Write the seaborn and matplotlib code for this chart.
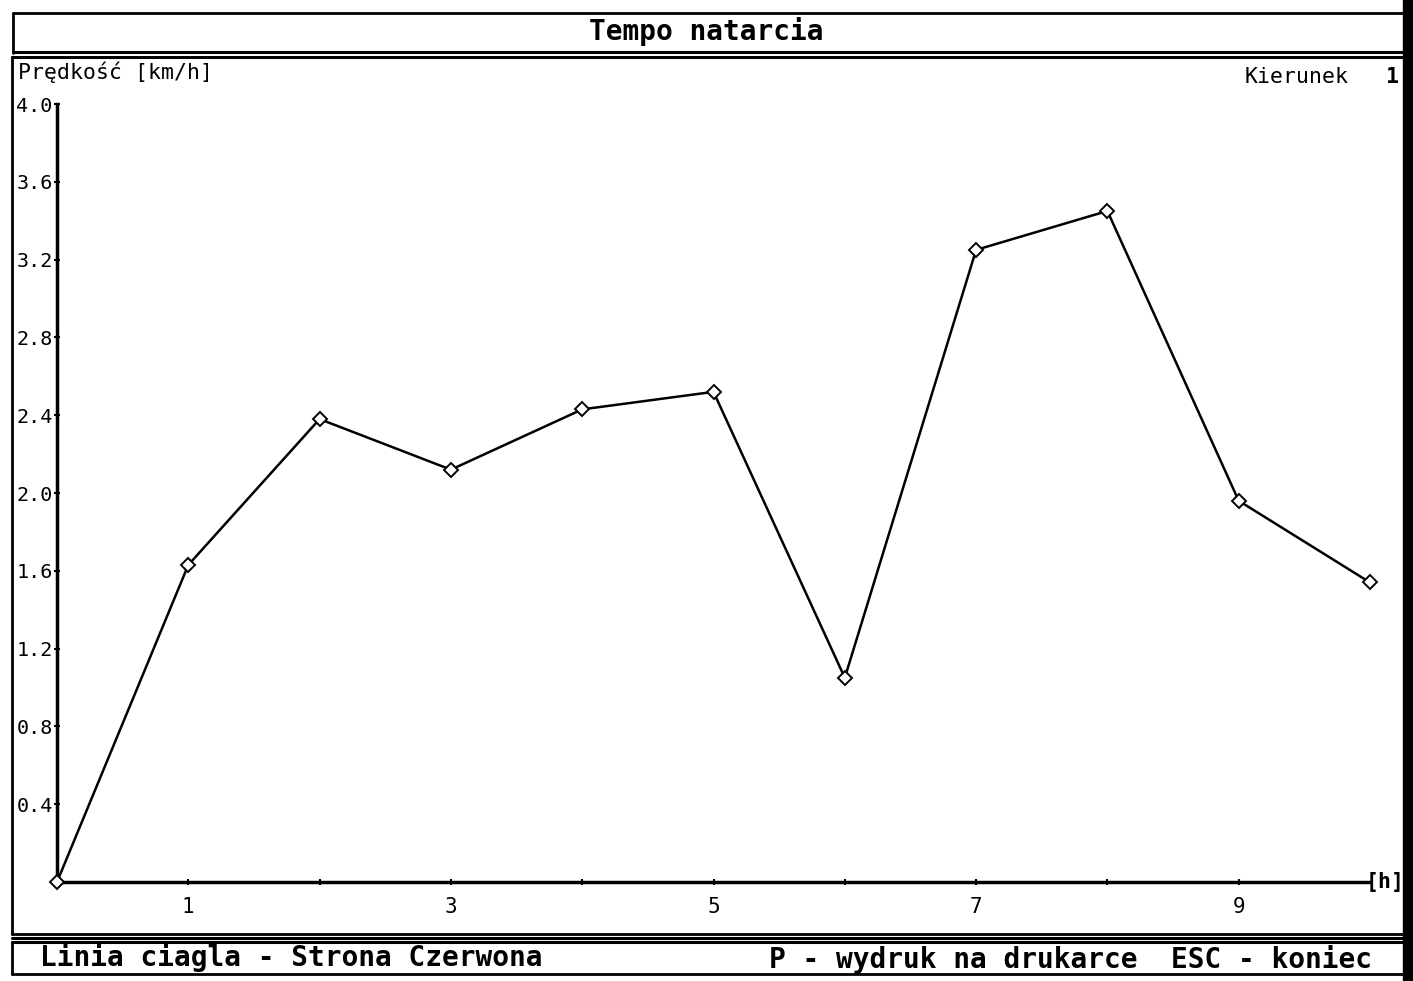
import matplotlib
matplotlib.use("Agg")
import matplotlib.pyplot as plt
import seaborn as sns
from matplotlib.lines import Line2D
from matplotlib.patches import Rectangle

sns.set_style("white")
plt.rcParams["font.family"] = ["DejaVu Sans Mono", "DejaVu Sans"]
plt.rcParams["text.color"] = "black"
plt.rcParams["xtick.color"] = "black"
plt.rcParams["ytick.color"] = "black"

hours = [0, 1, 2, 3, 4, 5, 6, 7, 8, 9, 10]
speed = [0.0, 1.63, 2.38, 2.12, 2.43, 2.52, 1.05, 3.25, 3.45, 1.96, 1.54]
y_ticks = [0.4, 0.8, 1.2, 1.6, 2.0, 2.4, 2.8, 3.2, 3.6, 4.0]
x_ticks = [1, 2, 3, 4, 5, 6, 7, 8, 9]
x_labels = ["1", "", "3", "", "5", "", "7", "", "9"]

W, H = 1413, 981
fig = plt.figure(figsize=(W / 100, H / 100), dpi=100)


def fx(px):
    return px / W


def fy(py):
    return 1 - py / H


def hline(y, x0, x1, lw=2.0):
    fig.add_artist(Line2D([fx(x0), fx(x1)], [fy(y), fy(y)], color="black", lw=lw))


def vline(x, y0, y1, lw=2.0):
    fig.add_artist(Line2D([fx(x), fx(x)], [fy(y0), fy(y1)], color="black", lw=lw))


# screen frames
hline(13, 13, 1405)
vline(13, 13, 53)
hline(52, 13, 1405, lw=2.2)
hline(57, 12, 1405, lw=2.2)
vline(12, 57, 934)
hline(934, 12, 1405)
hline(938, 12, 1405, lw=2.2)
hline(942, 12, 1405, lw=2.2)
vline(12, 942, 974)
hline(974, 12, 1405)
fig.add_artist(Rectangle((fx(1403), 0), 1 - fx(1403), 1, transform=fig.transFigure,
                         color="black"))

fig.text(fx(706), fy(31), "Tempo natarcia", ha="center", va="center",
         fontsize=20, fontweight="bold")
fig.text(fx(18), fy(72), "Prędkość [km/h]", ha="left", va="center", fontsize=15.5)
fig.text(fx(1245), fy(77), "Kierunek", ha="left", va="center", fontsize=15.5)
fig.text(fx(1392), fy(77), "1", ha="center", va="center", fontsize=15.5,
         fontweight="bold")
fig.text(fx(40), fy(957), "Linia ciagla - Strona Czerwona", ha="left", va="center",
         fontsize=20, fontweight="bold")
fig.text(fx(1372), fy(960), "P - wydruk na drukarce  ESC - koniec", ha="right",
         va="center", fontsize=20, fontweight="bold")

ax = fig.add_axes([fx(57), fy(882), fx(1370) - fx(57), fy(104) - fy(882)])
sns.lineplot(x=hours, y=speed, ax=ax, color="black", lw=1.8, marker="D",
             markersize=7, markerfacecolor="white", markeredgecolor="black",
             markeredgewidth=1.4, clip_on=False, zorder=5)

ax.set_xlim(0, 10)
ax.set_ylim(0, 4.0)
ax.set_yticks(y_ticks)
ax.set_yticklabels([f"{v:.1f}" for v in y_ticks])
ax.set_xticks(x_ticks)
ax.set_xticklabels(x_labels)
ax.tick_params(axis="y", left=True, direction="inout", length=5, width=1.5, pad=0.5,
               labelsize=14.5)
ax.tick_params(axis="x", bottom=True, direction="inout", length=5, width=1.5, pad=8,
               labelsize=15)
ax.set_xlabel("")
ax.set_ylabel("")
for side in ["top", "right"]:
    ax.spines[side].set_visible(False)
for side in ["left", "bottom"]:
    ax.spines[side].set_linewidth(2.5)
    ax.spines[side].set_color("black")
ax.text(0.997, 0.0, "[h]", transform=ax.transAxes, ha="left", va="center",
        fontsize=15.5, fontweight="bold")

fig.savefig("out.png", dpi=100, facecolor="white")
